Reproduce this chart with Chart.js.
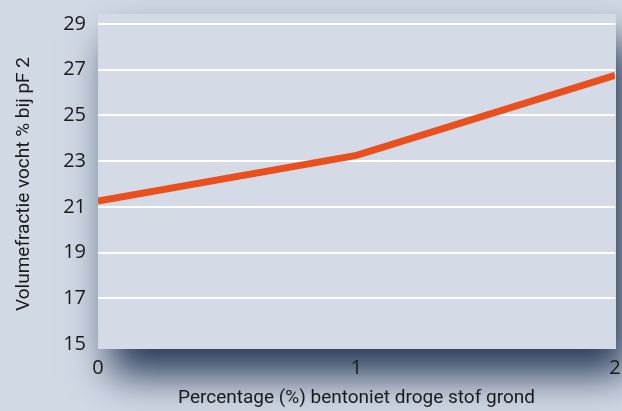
<!DOCTYPE html>
<html>
<head>
<meta charset="utf-8">
<script src="https://cdn.jsdelivr.net/npm/chart.js@4"></script>
<style>
  html, body { margin: 0; padding: 0; background: #d1d9e5; }
  #wrap { width: 622px; height: 411px; }
</style>
</head>
<body>
<div id="wrap"><canvas id="chart" width="622" height="411"></canvas></div>
<script>
// gegevens
const percentages = [0, 1, 2];
const volumefractie = [21.25, 23.25, 26.75];
const yTicks = [15, 17, 19, 21, 23, 25, 27, 29];

const xTitle = 'Percentage (%) bentoniet droge stof grond';
const yTitle = 'Volumefractie vocht % bij pF 2';

// achtergrondpaneel met schaduw
const panelPlugin = {
  id: 'panel',
  beforeDraw(chart) {
    const { ctx, chartArea: a } = chart;
    ctx.save();
    ctx.fillStyle = '#d1d9e5';
    ctx.fillRect(0, 0, chart.width, chart.height);
    ctx.shadowColor = 'rgba(40,58,88,1)';
    ctx.shadowBlur = 38;
    ctx.shadowOffsetX = 12;
    ctx.shadowOffsetY = 26;
    ctx.fillStyle = '#d4dbe7';
    ctx.fillRect(a.left, a.top - 10, a.right - a.left + 1, a.bottom - a.top + 15);
    ctx.restore();
  },
};

new Chart(document.getElementById('chart'), {
  type: 'line',
  data: {
    labels: percentages,
    datasets: [{
      data: volumefractie,
      borderColor: '#e9501e',
      borderWidth: 7,
      pointRadius: 0,
      tension: 0,
    }],
  },
  options: {
    responsive: false,
    animation: false,
    layout: { padding: { left: 0, right: 7, top: 24, bottom: 0 } },
    plugins: { legend: { display: false }, tooltip: { enabled: false } },
    scales: {
      x: {
        type: 'linear',
        min: 0,
        max: 2,
        border: { display: false },
        grid: { display: false, drawTicks: false },
        ticks: {
          stepSize: 1,
          padding: 12,
          color: '#1a1a1a',
          font: { family: 'Open Sans', size: 20 },
        },
        title: {
          display: true,
          text: xTitle,
          color: '#1a1a1a',
          font: { family: 'Roboto', size: 19 },
          padding: { top: 0, bottom: 1 },
        },
        afterFit: (s) => {
          s.height = 67;
          s.paddingLeft = 0;
          s.paddingRight = 0;
        },
      },
      y: {
        min: 15,
        max: 29,
        border: { display: false },
        grid: {
          drawTicks: false,
          color: (c) => (c.tick.value === 15 ? 'rgba(0,0,0,0)' : '#ffffff'),
          lineWidth: 2,
        },
        afterBuildTicks: (s) => { s.ticks = yTicks.map((v) => ({ value: v })); },
        ticks: {
          padding: 12,
          color: '#1a1a1a',
          font: { family: 'Open Sans', size: 20 },
        },
        title: {
          display: true,
          text: yTitle,
          color: '#1a1a1a',
          font: { family: 'Roboto', size: 19 },
          padding: { top: 13, bottom: 0 },
        },
        afterFit: (s) => { s.width = 98; },
      },
    },
  },
  plugins: [panelPlugin],
});
</script>
</body>
</html>
